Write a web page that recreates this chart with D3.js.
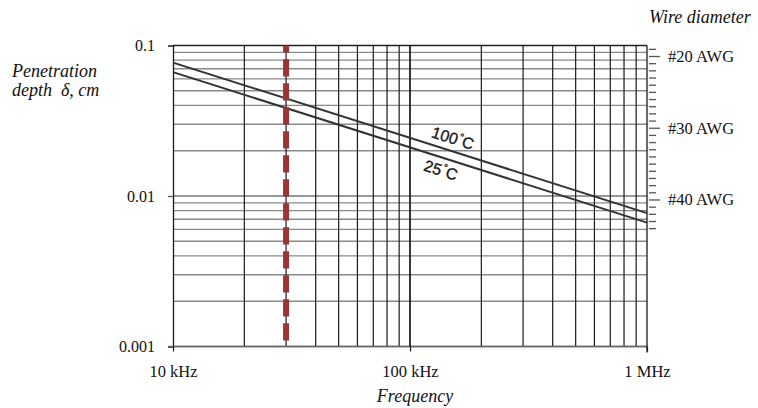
<!DOCTYPE html>
<html>
<head>
<meta charset="utf-8">
<script src="https://cdn.jsdelivr.net/npm/d3@7"></script>
<style>
  html, body { margin: 0; padding: 0; background: #fff; }
  svg { display: block; }
  .serif { font-family: "Liberation Serif", "DejaVu Serif", serif; }
</style>
</head>
<body>
<svg id="chart" width="758" height="408"></svg>
<script>
// ---- data ----
const freqs = [1e4, 1e6];                 // Hz
const depth100C = [0.077, 0.0077];        // cm
const depth25C = [0.0665, 0.00665];       // cm
const xTicks = [1e4, 1e5, 1e6];
const xTickLabels = ["10 kHz", "100 kHz", "1 MHz"];
const xGrid = [2e4, 3e4, 4e4, 5e4, 6e4, 7e4, 8e4, 9e4, 1e5, 2e5, 3e5, 4e5, 5e5, 6e5, 7e5, 8e5, 9e5];
const yTicks = [0.1, 0.01, 0.001];
const yTickLabels = ["0.1", "0.01", "0.001"];
const yGrid = [0.002, 0.003, 0.004, 0.005, 0.006, 0.007, 0.008, 0.009,
               0.02, 0.03, 0.04, 0.05, 0.06, 0.07, 0.08, 0.09];
const awgGauges = [19, 20, 21, 22, 23, 24, 25, 26, 27, 28, 29, 30, 31, 32, 33, 34, 35, 36, 37, 38, 39, 40, 41, 42, 43, 44];
const awgLabeled = [20, 30, 40];
const awgRefGauges = [20, 40];            // reference gauges
const awgRefDepth = [0.0845, 0.00941];    // matching depth axis values
const markerFreq = 30000;                 // Hz
const curveLabels = [
  { name: "100", series: "100C", freq: 146000 },
  { name: "25", series: "25C", freq: 140000 }
];

// ---- layout ----
const svg = d3.select("#chart");
const pLeft = 173, pRight = 647, pTop = 45.5, pBottom = 346.5;

const x = d3.scaleLog().domain([1e4, 1e6]).range([pLeft, pRight]);
const y = d3.scaleLog().domain([0.001, 0.1]).range([pBottom, pTop]);
const awgY = d3.scaleLinear().domain(awgRefGauges)
  .range([y(awgRefDepth[0]), y(awgRefDepth[1])]);

// horizontal grid
svg.append("g").selectAll("line").data(yGrid).join("line")
  .attr("x1", pLeft).attr("x2", pRight)
  .attr("y1", d => y(d)).attr("y2", d => y(d))
  .attr("stroke", "#8a8a8a").attr("stroke-width", 1.4);
svg.append("g").selectAll("line").data(yTicks).join("line")
  .attr("x1", pLeft).attr("x2", pRight)
  .attr("y1", d => y(d)).attr("y2", d => y(d))
  .attr("stroke", d => d === 0.1 ? "#222" : "#777").attr("stroke-width", 1.4);

// vertical grid
svg.append("g").selectAll("line").data(xGrid).join("line")
  .attr("x1", d => x(d)).attr("x2", d => x(d))
  .attr("y1", pTop).attr("y2", pBottom)
  .attr("stroke", "#1a1a1a").attr("stroke-width", 1.2);

// left axis
const yAxis = d3.axisLeft(y).tickValues(yTicks)
  .tickFormat((d, i) => yTickLabels[i]).tickSize(5).tickPadding(13);
const gy = svg.append("g").attr("transform", `translate(${pLeft},0)`).call(yAxis);
gy.select(".domain").attr("stroke", "#1a1a1a").attr("stroke-width", 1.3);
gy.selectAll(".tick line").attr("stroke", "#555").attr("stroke-width", 1.3);
gy.selectAll("text").attr("class", "serif").attr("font-size", 16).attr("fill", "#111");

// bottom axis
const xAxis = d3.axisBottom(x).tickValues(xTicks)
  .tickFormat((d, i) => xTickLabels[i]).tickSize(5).tickPadding(14);
const gx = svg.append("g").attr("transform", `translate(0,${pBottom})`).call(xAxis);
gx.select(".domain").attr("stroke", "#666").attr("stroke-width", 1.4)
  .attr("d", `M${pLeft - 5},0H${pRight}`);
gx.selectAll(".tick line").attr("stroke", "#1a1a1a").attr("stroke-width", 1.2);
gx.selectAll("text").attr("class", "serif").attr("font-size", 16.5).attr("fill", "#111");

// right border and 100 kHz line
svg.append("line").attr("x1", pRight).attr("x2", pRight)
  .attr("y1", pTop).attr("y2", pBottom + 6)
  .attr("stroke", "#1a1a1a").attr("stroke-width", 1.3);
svg.append("line").attr("x1", x(1e5)).attr("x2", x(1e5))
  .attr("y1", pTop).attr("y2", pBottom)
  .attr("stroke", "#1a1a1a").attr("stroke-width", 1.3);

// AWG ticks on right
const ga = svg.append("g");
ga.selectAll("line").data(awgGauges).join("line")
  .attr("x1", pRight + 2)
  .attr("x2", d => awgLabeled.includes(d) ? pRight + 13 : pRight + 9)
  .attr("y1", d => awgY(d)).attr("y2", d => awgY(d))
  .attr("stroke", "#555").attr("stroke-width", 1.3);
ga.selectAll("text").data(awgLabeled).join("text")
  .attr("class", "serif")
  .attr("x", pRight + 21).attr("y", d => awgY(d)).attr("dy", "0.33em")
  .attr("font-size", 16.5).attr("fill", "#111")
  .text(d => `#${d} AWG`);

// curves
const line = d3.line().x((d, i) => x(freqs[i])).y(d => y(d));
[depth100C, depth25C].forEach(s => {
  svg.append("path").datum(s).attr("d", line)
    .attr("fill", "none").attr("stroke", "#333").attr("stroke-width", 2);
});

// marker dashed line
svg.append("line")
  .attr("x1", x(markerFreq)).attr("x2", x(markerFreq))
  .attr("y1", y(0.1)).attr("y2", y(0.001))
  .attr("stroke", "#993535").attr("stroke-width", 6)
  .attr("stroke-dasharray", "17.3,6.7").attr("stroke-dashoffset", 10.2);

// curve labels
const angle = Math.atan2(y(depth100C[1]) - y(depth100C[0]), x(freqs[1]) - x(freqs[0])) * 180 / Math.PI;
function depthAt(series, f) {
  const s = series === "100C" ? depth100C : depth25C;
  const t = (Math.log10(f) - Math.log10(freqs[0])) / (Math.log10(freqs[1]) - Math.log10(freqs[0]));
  return Math.pow(10, Math.log10(s[0]) + t * (Math.log10(s[1]) - Math.log10(s[0])));
}
curveLabels.forEach(c => {
  const px = x(c.freq), py = y(depthAt(c.series, c.freq));
  const t = svg.append("text")
    .attr("transform", `translate(${px},${py}) rotate(${angle})`)
    .attr("y", c.series === "100C" ? -7 : 18)
    .attr("text-anchor", "middle")
    .attr("font-family", "'Liberation Sans', Arial, sans-serif")
    .attr("font-size", 16).attr("fill", "#1a1a1a")
    .attr("stroke", "#1a1a1a").attr("stroke-width", 0.35);
  t.append("tspan").text(c.name);
  t.append("tspan").attr("font-size", 10).attr("dy", -6).attr("dx", 1).text("°");
  t.append("tspan").attr("dy", 6).text("C");
});

// titles
svg.append("text").attr("class", "serif").attr("font-style", "italic")
  .attr("x", 649).attr("y", 23).attr("font-size", 18).attr("fill", "#111")
  .text("Wire diameter");
svg.append("text").attr("class", "serif").attr("font-style", "italic")
  .attr("x", 12).attr("y", 77).attr("font-size", 18).attr("fill", "#111")
  .text("Penetration");
svg.append("text").attr("class", "serif").attr("font-style", "italic")
  .attr("x", 12).attr("y", 96).attr("font-size", 18).attr("fill", "#111")
  .attr("xml:space", "preserve")
  .text("depth  δ, cm");
svg.append("text").attr("class", "serif").attr("font-style", "italic")
  .attr("x", x(1e5) + 5).attr("y", 402).attr("text-anchor", "middle")
  .attr("font-size", 18).attr("fill", "#111")
  .text("Frequency");
</script>
</body>
</html>
